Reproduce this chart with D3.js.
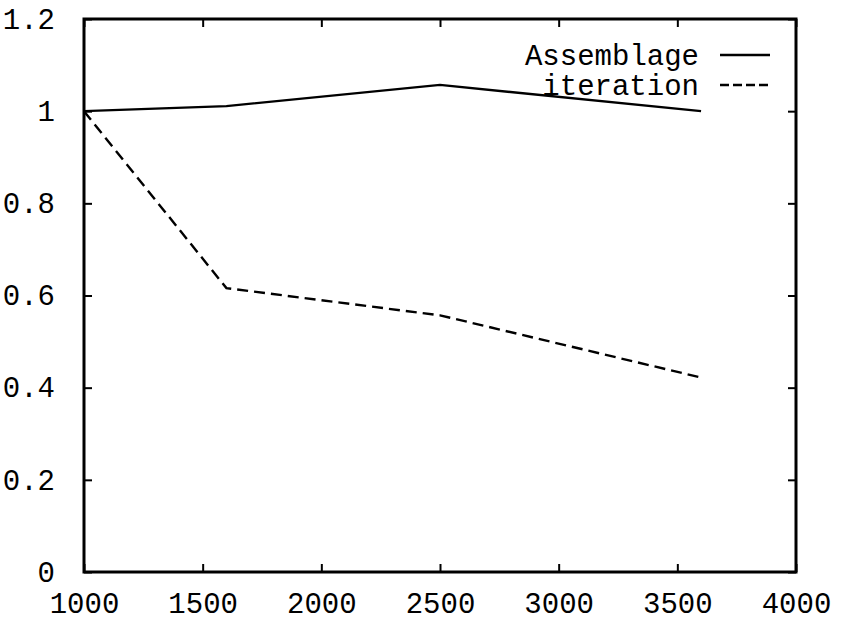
<!DOCTYPE html>
<html>
<head>
	<meta charset="UTF-8" />
	<title>Assemblage vs iteration</title>
	<script src="https://d3js.org/d3.v7.min.js"></script>
	<style>
		body { margin: 0; background: #fff; }
		text { font-family: "Liberation Mono", "DejaVu Sans Mono", monospace; }
	</style>
</head>
<body>
	<svg id="chart" width="843" height="624"></svg>

	<script type="text/javascript">
	// data
	var sizes = [1000, 1600, 2500, 3600]
	var assemblage = [1.0, 1.011, 1.057, 1.0]
	var iteration = [1.0, 0.616, 0.557, 0.422]
	var xTicks = [1000, 1500, 2000, 2500, 3000, 3500, 4000]
	var yTicks = [0, 0.2, 0.4, 0.6, 0.8, 1, 1.2]
	var seriesNames = ["Assemblage", "iteration"]
	var seriesDash = ["none", "11,6"]

	var svg = d3.select("#chart")
	var pLeft = 84, pRight = 796, pTop = 19, pBottom = 572
	var fontSize = "29px"

	var xScale = d3.scaleLinear().domain([1000, 4000]).range([pLeft, pRight])
	var yScale = d3.scaleLinear().domain([0, 1.2]).range([pBottom, pTop])

	// axes, gnuplot style: inward ticks mirrored on all sides
	var tick = 8
	svg.append("g").attr("transform", `translate(0,${pBottom})`)
		.call(d3.axisBottom(xScale).tickValues(xTicks).tickSize(-tick).tickPadding(20).tickFormat(d3.format("d")))
	svg.append("g").attr("transform", `translate(0,${pTop})`)
		.call(d3.axisTop(xScale).tickValues(xTicks).tickSize(-tick).tickFormat(""))
	svg.append("g").attr("transform", `translate(${pLeft},0)`)
		.call(d3.axisLeft(yScale).tickValues(yTicks).tickSize(-tick).tickPadding(29).tickFormat(d => String(+d.toFixed(1))))
	svg.append("g").attr("transform", `translate(${pRight},0)`)
		.call(d3.axisRight(yScale).tickValues(yTicks).tickSize(-tick).tickFormat(""))

	svg.selectAll(".domain").remove()
	svg.selectAll(".tick line").style("stroke", "#000").style("stroke-width", "2px")
	svg.selectAll(".tick text").style("font-size", fontSize).style("fill", "#000")

	// frame
	svg.append("rect")
		.attr("x", pLeft).attr("y", pTop)
		.attr("width", pRight - pLeft).attr("height", pBottom - pTop)
		.style("fill", "none").style("stroke", "#000").style("stroke-width", "3px")

	// lines
	var line = d3.line().x(d => xScale(d[0])).y(d => yScale(d[1]))
	;[assemblage, iteration].forEach((vals, i) => {
		svg.append("path")
			.attr("d", line(sizes.map((s, j) => [s, vals[j]])))
			.style("fill", "none")
			.style("stroke", "#000")
			.style("stroke-width", "2.4px")
			.style("stroke-dasharray", seriesDash[i])
	})

	// legend
	seriesNames.forEach((name, i) => {
		var y = 55 + i * 30
		svg.append("text")
			.attr("x", 699).attr("y", y)
			.attr("dy", "0.35em")
			.attr("text-anchor", "end")
			.style("font-size", fontSize)
			.text(name)
		svg.append("line")
			.attr("x1", 720).attr("x2", 770)
			.attr("y1", y).attr("y2", y)
			.style("stroke", "#000").style("stroke-width", "2.4px")
			.style("stroke-dasharray", i == 1 ? "9,4" : "none")
	})
	</script>
</body>
</html>
